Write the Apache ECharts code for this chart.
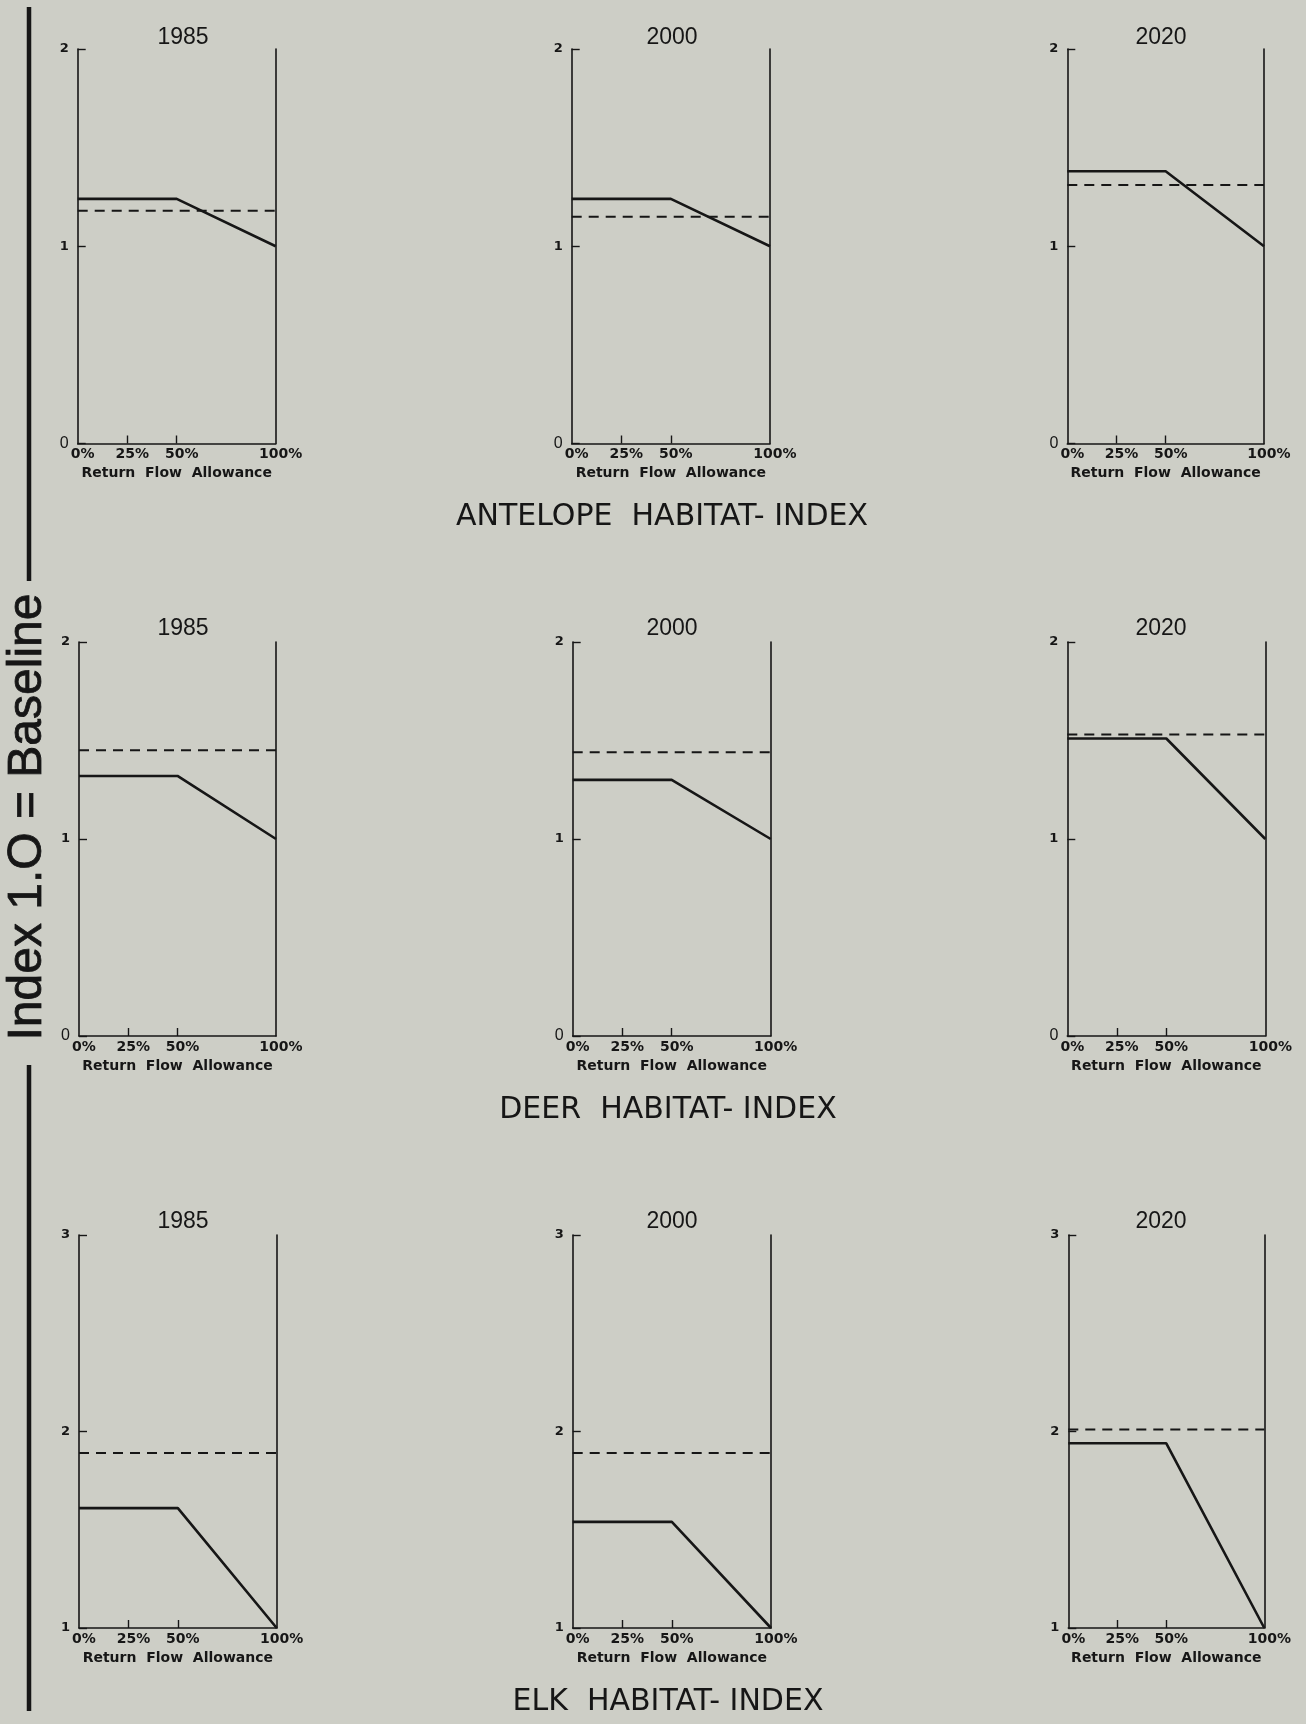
<!DOCTYPE html>
<html>
<head>
<meta charset="utf-8">
<script src="https://cdn.jsdelivr.net/npm/echarts@6/dist/echarts.min.js"></script>
<style>
html,body{margin:0;padding:0;background:#cdcec6;}
#c{width:1306px;height:1724px;}
</style>
</head>
<body>
<div id="c"></div>
<script>
// ---- data ----
const years = ['1985', '2000', '2020'];
const sections = ['ANTELOPE  HABITAT- INDEX', 'DEER  HABITAT- INDEX', 'ELK  HABITAT- INDEX'];
const yAxisTitle = 'Index 1.O = Baseline';
const xAxisTitle = 'Return  Flow  Allowance';
const solidX = [0, 50, 100];          // % return flow allowance
const dashedX = [0, 100];
const xLabelValues = [0, 25, 50, 100];
const xTickValues = [25, 50];
const antelopeSolid  = [[1.24, 1.24, 1.00], [1.24, 1.24, 1.00], [1.38, 1.38, 1.00]];
const antelopeDashed = [[1.18, 1.18], [1.15, 1.15], [1.31, 1.31]];
const deerSolid      = [[1.32, 1.32, 1.00], [1.30, 1.30, 1.00], [1.51, 1.51, 1.00]];
const deerDashed     = [[1.45, 1.45], [1.44, 1.44], [1.53, 1.53]];
const elkSolid       = [[1.61, 1.61, 1.00], [1.54, 1.54, 1.00], [1.94, 1.94, 1.00]];
const elkDashed      = [[1.89, 1.89], [1.89, 1.89], [2.01, 2.01]];
const yRanges = [[0, 2], [0, 2], [1, 3]];

// ---- layout (pixels) ----
const ink = '#161616';
const rowTops = [49, 642, 1235];
const rowHeights = [394.5, 394, 393];
const panelLefts = [[77.7, 571.7, 1067.3], [79, 572.7, 1067.3], [79, 572.7, 1068.3]];
const panelWidths = [[198, 198.3, 196.7], [197, 198, 198], [197.7, 198.3, 196]];
const yearTitleX = [183, 672, 1161];
const yearTitleY = [38, 629, 1222];
const sectionPos = [[662, 517], [668, 1110], [668, 1702]];

const solidSets = [antelopeSolid, deerSolid, elkSolid];
const dashedSets = [antelopeDashed, deerDashed, elkDashed];

const grids = [], xAxes = [], yAxes = [], series = [], graphics = [];
const labelFont = '"DejaVu Sans", "Liberation Sans", sans-serif';

for (let r = 0; r < 3; r++) {
  for (let c = 0; c < 3; c++) {
    const gi = r * 3 + c;
    grids.push({
      left: panelLefts[r][c], top: rowTops[r],
      width: panelWidths[r][c], height: rowHeights[r],
      outerBoundsMode: 'none', containLabel: false
    });
    xAxes.push({
      type: 'value', gridIndex: gi, min: 0, max: 100, interval: 25,
      name: xAxisTitle, nameLocation: 'middle', nameGap: 23,
      nameTextStyle: { color: ink, fontSize: 14, fontWeight: 'bold', fontFamily: labelFont },
      axisLine: { show: true, lineStyle: { color: ink, width: 1.6 } },
      axisTick: { show: true, inside: true, length: 8, customValues: xTickValues, lineStyle: { color: ink, width: 1.4 } },
      axisLabel: {
        show: true, customValues: xLabelValues, margin: 4, color: ink,
        fontSize: 14, fontWeight: 'bold', fontFamily: labelFont,
        padding: [0, 0, 0, 10],
        formatter: v => v + '%'
      },
      splitLine: { show: false }
    });
    const [ymin, ymax] = yRanges[r];
    yAxes.push({
      type: 'value', gridIndex: gi, min: ymin, max: ymax, interval: 1, position: 'left',
      axisLine: { show: true, lineStyle: { color: ink, width: 1.6 } },
      axisTick: { show: true, inside: true, length: 8, lineStyle: { color: ink, width: 1.4 } },
      axisLabel: {
        show: true, margin: 9, color: ink, fontSize: 13, fontWeight: 'bold', fontFamily: labelFont,
        formatter: v => (v === 0 ? '{z|0}' : String(v)),
        rich: { z: { fontSize: 16, fontWeight: 'normal', color: ink, fontFamily: '"Liberation Sans", sans-serif' } }
      },
      splitLine: { show: false }
    });
    yAxes.push({
      type: 'value', gridIndex: gi, min: ymin, max: ymax, interval: 1, position: 'right',
      axisLine: { show: true, onZero: false, lineStyle: { color: ink, width: 1.6 } },
      axisTick: { show: false }, axisLabel: { show: false }, splitLine: { show: false }
    });
    const yIdx = gi * 2;
    series.push({
      type: 'line', xAxisIndex: gi, yAxisIndex: yIdx, showSymbol: false, silent: true,
      data: solidX.map((x, i) => [x, solidSets[r][c][i]]),
      lineStyle: { color: ink, width: 2.6 }, z: 3
    });
    series.push({
      type: 'line', xAxisIndex: gi, yAxisIndex: yIdx, showSymbol: false, silent: true,
      data: dashedX.map((x, i) => [x, dashedSets[r][c][i]]),
      lineStyle: { color: ink, width: 2, type: [10, 7] }, z: 3
    });
    // year title
    graphics.push({
      type: 'text', x: yearTitleX[c], y: yearTitleY[r],
      style: {
        text: years[c], fill: ink, font: '23px "Liberation Sans", sans-serif',
        align: 'center', verticalAlign: 'middle', textAlign: 'center', textVerticalAlign: 'middle'
      }
    });
  }
  graphics.push({
    type: 'text', x: sectionPos[r][0], y: sectionPos[r][1],
    style: {
      text: sections[r], fill: ink, font: '30px "DejaVu Sans", sans-serif',
      align: 'center', verticalAlign: 'middle', textAlign: 'center', textVerticalAlign: 'middle'
    }
  });
}

// vertical title and its bars
graphics.push({
  type: 'text', x: 27.5, y: 817, rotation: Math.PI / 2,
  style: {
    text: yAxisTitle, fill: ink, font: '48px "Liberation Sans", sans-serif',
    stroke: ink, lineWidth: 0.8,
    align: 'center', verticalAlign: 'middle', textAlign: 'center', textVerticalAlign: 'middle'
  }
});
graphics.push({ type: 'line', shape: { x1: 29, y1: 7, x2: 29, y2: 581 }, style: { stroke: ink, lineWidth: 4.5 } });
graphics.push({ type: 'line', shape: { x1: 29, y1: 1065, x2: 29, y2: 1711 }, style: { stroke: ink, lineWidth: 4.5 } });

const chart = echarts.init(document.getElementById('c'), null, { renderer: 'canvas' });
chart.setOption({
  backgroundColor: '#cdcec6',
  animation: false,
  grid: grids,
  xAxis: xAxes,
  yAxis: yAxes,
  series: series,
  graphic: graphics
});
</script>
</body>
</html>
